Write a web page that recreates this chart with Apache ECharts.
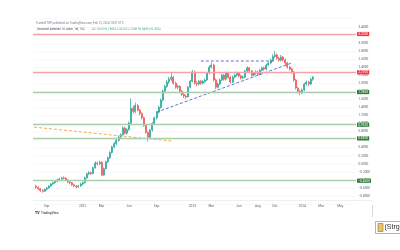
<!DOCTYPE html>
<html><head><meta charset="utf-8">
<script src="https://cdn.jsdelivr.net/npm/echarts@6/dist/echarts.min.js"></script>
<style>html,body{margin:0;padding:0;background:#fff}#c{width:400px;height:250px}</style>
</head><body><div id="c"></div>
<script>
// weekly categories start one week before first candle
const firstWeek = '2021-07-26';
const weekCount = 153;
// [open, close, low, high], weekly from 2021-08-02
const candles = [
[-0.55,-0.58,-0.62,-0.52],[-0.58,-0.62,-0.65,-0.56],[-0.62,-0.66,-0.70,-0.60],[-0.66,-0.68,-0.72,-0.63],
[-0.68,-0.63,-0.70,-0.61],[-0.63,-0.60,-0.66,-0.57],[-0.60,-0.55,-0.62,-0.53],[-0.55,-0.50,-0.57,-0.48],
[-0.50,-0.47,-0.53,-0.44],[-0.47,-0.43,-0.49,-0.41],[-0.43,-0.40,-0.46,-0.37],[-0.40,-0.38,-0.43,-0.35],
[-0.38,-0.35,-0.41,-0.32],[-0.35,-0.36,-0.39,-0.31],[-0.36,-0.40,-0.43,-0.33],[-0.40,-0.45,-0.48,-0.38],
[-0.45,-0.47,-0.51,-0.43],[-0.47,-0.52,-0.55,-0.45],[-0.52,-0.55,-0.58,-0.50],[-0.55,-0.57,-0.61,-0.52],
[-0.57,-0.55,-0.60,-0.52],[-0.55,-0.50,-0.57,-0.47],[-0.50,-0.47,-0.53,-0.44],[-0.47,-0.35,-0.49,-0.32],
[-0.35,-0.25,-0.37,-0.22],[-0.25,-0.22,-0.28,-0.18],[-0.22,-0.24,-0.28,-0.19],[-0.24,-0.10,-0.26,-0.07],
[-0.10,0.02,-0.12,0.06],[0.02,0.00,-0.04,0.05],[0.00,0.04,-0.03,0.08],[0.04,-0.28,-0.31,0.06],
[-0.28,-0.12,-0.30,-0.09],[-0.12,0.05,-0.14,0.08],[0.05,0.15,0.02,0.18],[0.15,0.28,0.12,0.31],
[0.28,0.42,0.25,0.45],[0.42,0.50,0.38,0.54],[0.50,0.58,0.46,0.62],[0.58,0.66,0.55,0.70],
[0.66,0.72,0.62,0.76],[0.72,0.89,0.70,0.93],[0.89,0.76,0.73,0.92],[0.76,0.85,0.72,0.88],
[0.85,1.01,0.82,1.05],[1.01,1.38,0.98,1.62],[1.38,1.30,1.25,1.45],[1.30,1.45,1.26,1.52],
[1.45,1.33,1.30,1.48],[1.33,1.25,1.20,1.36],[1.25,1.14,1.10,1.28],[1.14,0.95,0.92,1.17],
[0.95,0.78,0.74,0.98],[0.78,0.66,0.55,0.80],[0.66,0.84,0.62,0.87],[0.84,1.00,0.80,1.03],
[1.00,1.14,0.97,1.17],[1.14,1.28,1.10,1.31],[1.28,1.40,1.25,1.44],[1.40,1.58,1.37,1.62],
[1.58,1.80,1.55,1.84],[1.80,1.92,1.76,1.96],[1.92,2.03,1.88,2.08],[2.03,2.10,1.98,2.16],
[2.10,2.15,2.05,2.28],[2.15,2.00,1.96,2.18],[2.00,1.90,1.86,2.04],[1.90,1.92,1.85,1.97],
[1.92,1.80,1.76,1.95],[1.80,1.72,1.68,1.83],[1.72,1.68,1.63,1.76],[1.68,1.66,1.60,1.72],
[1.66,1.90,1.64,1.93],[1.90,2.05,1.87,2.08],[2.05,2.28,2.02,2.33],[2.28,2.00,1.96,2.31],
[2.00,1.98,1.92,2.05],[1.98,2.05,1.94,2.08],[2.05,2.00,1.96,2.08],[2.00,2.04,1.97,2.08],
[2.04,2.08,2.00,2.12],[2.08,2.25,2.05,2.28],[2.25,2.40,2.22,2.44],[2.40,2.45,2.36,2.52],
[2.45,2.08,2.04,2.48],[2.08,1.90,1.85,2.12],[1.90,1.98,1.87,2.02],[1.98,2.08,1.95,2.12],
[2.08,2.20,2.05,2.24],[2.20,2.10,2.06,2.23],[2.10,2.25,2.07,2.29],[2.25,2.15,2.11,2.28],
[2.15,2.03,1.99,2.18],[2.03,2.15,2.00,2.19],[2.15,2.20,2.12,2.24],[2.20,2.25,2.16,2.29],
[2.25,2.18,2.14,2.28],[2.18,2.13,2.09,2.21],[2.13,2.15,2.10,2.19],[2.15,2.30,2.12,2.33],
[2.30,2.38,2.27,2.42],[2.38,2.30,2.26,2.40],[2.30,2.20,2.16,2.33],[2.20,2.25,2.17,2.28],
[2.25,2.28,2.21,2.32],[2.28,2.22,2.18,2.31],[2.22,2.32,2.19,2.35],[2.32,2.38,2.29,2.41],
[2.38,2.35,2.31,2.41],[2.35,2.45,2.32,2.48],[2.45,2.50,2.42,2.54],[2.50,2.57,2.47,2.61],
[2.57,2.66,2.54,2.72],[2.66,2.70,2.62,2.80],[2.70,2.62,2.58,2.74],[2.62,2.57,2.53,2.66],
[2.57,2.65,2.54,2.70],[2.65,2.58,2.54,2.68],[2.58,2.50,2.46,2.61],[2.50,2.40,2.36,2.53],
[2.40,2.35,2.31,2.43],[2.35,2.28,2.23,2.38],[2.28,2.08,2.04,2.30],[2.08,1.88,1.84,2.11],
[1.88,1.80,1.76,1.91],[1.80,1.76,1.70,1.84],[1.76,1.83,1.73,1.87],[1.83,1.98,1.80,2.01],
[1.98,2.03,1.94,2.07],[2.03,1.98,1.92,2.06],[1.98,2.10,1.95,2.13],[2.10,2.15,2.06,2.18]
];
const tickLabels = {
  '2021-09-06':'Sep','2022-01-03':'2022','2022-03-07':'Mar','2022-06-06':'Jun','2022-09-05':'Sep',
  '2023-01-02':'2023','2023-03-06':'Mar','2023-06-05':'Jun','2023-08-07':'Aug','2023-10-02':'Oct',
  '2024-01-01':'2024','2024-03-04':'Mar','2024-05-06':'May'
};
const resistanceLevels = [3.22, 2.27];
const supportLevels = [1.78, 0.97, 0.63, -0.42];
const lastPrice = 2.15;
const orangeTrend = [[0, 0.91], [65, 0.565]];
const blueTrend = [[58, 1.28], [122, 2.50]];
const blueTop = [[79, 2.55], [114, 2.55]];
const headerLine1 = 'TraderGTOP published on TradingView.com, Feb 13, 2024 10:51 UTC';
const headerLine2a = 'Deutsche Anleihen 10 Jahre, 1W, TVC';
const headerLine2b = 'O2.1010 H2.1830 L2.0610 C2.1500 +0.0490 (+2.33%)';

const weeks = [];
{
  const d0 = new Date(firstWeek + 'T00:00:00Z');
  for (let i = 0; i < weekCount; i++) {
    const d = new Date(d0.getTime() + i * 7 * 86400000);
    weeks.push(d.toISOString().slice(0, 10));
  }
}
const candleData = ['-'].concat(candles);
const fmt = v => (v < 0 ? '\u2212' : '') + Math.abs(v).toFixed(4);

const lvl = (v, line, box) => ({
  yAxis: v,
  lineStyle: {color: line, width: 1.4, type: 'solid'},
  label: {show: true, position: 'end', distance: 1, formatter: fmt(v), color: '#fff',
    backgroundColor: box, fontSize: 3.2, padding: [0.6, 1.2], fontFamily: 'Roboto'}
});
const mlData = []
  .concat(resistanceLevels.map(v => lvl(v, '#f5a3a8', '#f23645')))
  .concat(supportLevels.map(v => lvl(v, '#a9cfae', '#2e7d3c')))
  .concat([{yAxis: lastPrice, lineStyle: {opacity: 0},
    label: {show: true, position: 'end', distance: -7, formatter: fmt(lastPrice) + '  1d', color: '#fff',
      backgroundColor: '#26a69a', fontSize: 3.2, padding: [0.6, 1.5], fontFamily: 'Roboto'}}]);

const chart = echarts.init(document.getElementById('c'), null, {renderer: 'canvas'});
chart.setOption({
  animation: false,
  grid: {left: 33, right: 44, top: 18.7, bottom: 45.9},
  xAxis: {
    type: 'category', data: weeks, boundaryGap: true,
    axisLine: {show: false}, axisTick: {show: false},
    splitLine: {show: false},
    axisLabel: {interval: (i, v) => tickLabels[v] !== undefined, formatter: v => tickLabels[v] || '',
      fontSize: 3.2, color: '#5d606b', margin: 0.5, fontFamily: 'Roboto'}
  },
  yAxis: {
    type: 'value', position: 'right', min: -1, max: 3.6, interval: 0.2, scale: true,
    axisLine: {show: false}, axisTick: {show: false},
    splitLine: {lineStyle: {color: '#f4f5f8', width: 0.6}},
    axisLabel: {fontSize: 3.2, color: '#5d606b', margin: 2.5, formatter: fmt,
      showMaxLabel: false, showMinLabel: false, fontFamily: 'Roboto'}
  },
  series: [
    {type: 'candlestick', data: candleData, barWidth: 1.5,
      itemStyle: {color: '#26a69a', color0: '#ef5350', borderColor: '#26a69a', borderColor0: '#ef5350', borderWidth: 0.7},
      markLine: {silent: true, symbol: ['none', 'none'], data: mlData}},
    {type: 'line', data: orangeTrend, symbol: 'none', silent: true,
      lineStyle: {color: '#f7a94a', width: 1, type: [3, 2]}},
    {type: 'line', data: blueTrend, symbol: 'none', silent: true,
      lineStyle: {color: '#4f62d6', width: 0.9, type: [3, 2]}},
    {type: 'line', data: blueTop, symbol: 'none', silent: true,
      lineStyle: {color: '#4f62d6', width: 0.9, type: [3, 2]}}
  ],
  graphic: [
    {type: 'line', shape: {x1: 33, y1: 200.5, x2: 372, y2: 200.5}, style: {stroke: '#e6e8ee', lineWidth: 0.7}, silent: true},
    {type: 'text', left: 36, top: 21.5, style: {text: headerLine1, fontSize: 2.9, fill: '#787b86', fontFamily: 'Roboto'}},
    {type: 'text', left: 37, top: 27.5, style: {text: headerLine2a, fontSize: 2.9, fill: '#434651', fontFamily: 'Roboto'}},
    {type: 'text', left: 92, top: 27.5, style: {text: headerLine2b, fontSize: 2.9, fill: '#22ab94', fontFamily: 'Roboto'}},
    {type: 'text', left: 35, top: 211.5, style: {text: 'TV', fontSize: 3.6, fontWeight: 'bold', fill: '#131722', fontFamily: 'Roboto'}},
    {type: 'text', left: 41, top: 212, style: {text: 'TradingView', fontSize: 3.2, fill: '#131722', fontFamily: 'Roboto'}},
    {type: 'line', shape: {x1: 372.5, y1: 205, x2: 372.5, y2: 217}, style: {stroke: '#c8c8c8', lineWidth: 0.7}, silent: true},
    {type: 'rect', shape: {x: 375.5, y: 221.5, width: 30, height: 12}, style: {fill: '#fff', stroke: '#a0a0a0', lineWidth: 0.8}},
    {type: 'rect', shape: {x: 378, y: 223.5, width: 5, height: 8}, style: {fill: '#e9c46a', stroke: '#8a6d3b', lineWidth: 0.6}},
    {type: 'text', left: 384.5, top: 223.5, style: {text: '(Strg)', fontSize: 7, fill: '#333', fontFamily: 'Liberation Sans'}}
  ]
});
</script>
</body></html>
